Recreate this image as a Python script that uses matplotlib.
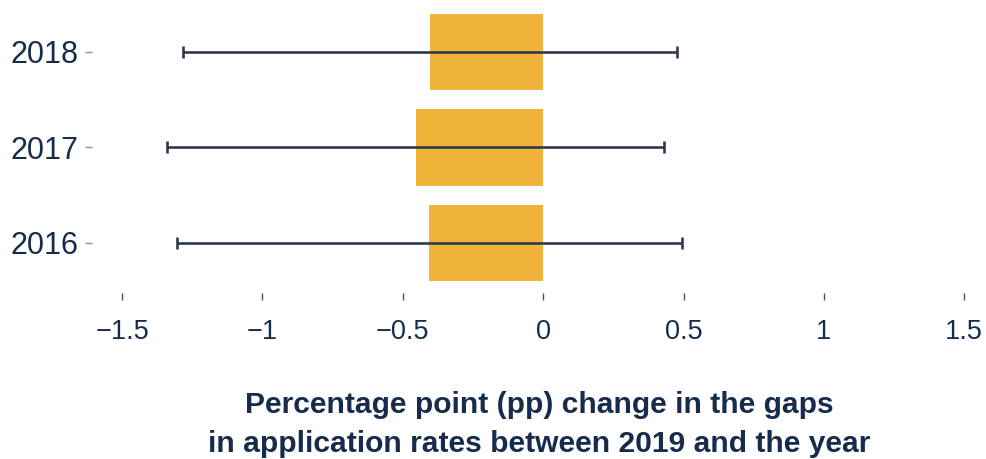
import matplotlib
matplotlib.use("Agg")
import matplotlib.pyplot as plt
import numpy as np

# Change in application-rate gaps relative to 2019, with confidence intervals
years = ["2016", "2017", "2018"]
change_pp = [-0.405, -0.454, -0.403]
ci_low = [-1.306, -1.340, -1.283]
ci_high = [0.495, 0.432, 0.477]
x_ticks = [-1.5, -1, -0.5, 0, 0.5, 1, 1.5]
x_tick_labels = ["\u22121.5", "\u22121", "\u22120.5", "0", "0.5", "1", "1.5"]

navy = "#172C4C"
bar_color = "#F0B43A"
err_color = "#2F3B4C"

plt.rcParams["font.family"] = ["Liberation Sans", "DejaVu Sans"]

fig = plt.figure(figsize=(9.87, 4.59), dpi=100)
W, H = 987, 459
ax_left, ax_right, ax_top, ax_bottom = 92, 987, 4, 293
ax = fig.add_axes([ax_left / W, 1 - ax_bottom / H,
                   (ax_right - ax_left) / W, (ax_bottom - ax_top) / H])

ypos = np.arange(len(years))
vals = np.array(change_pp)
xerr = np.vstack([vals - np.array(ci_low), np.array(ci_high) - vals])

ax.barh(ypos, vals, height=0.8, color=bar_color, zorder=1)
ax.errorbar(vals, ypos, xerr=xerr, fmt="none", ecolor=err_color,
            elinewidth=1.9, capsize=4.3, capthick=1.9, zorder=2)

ax.set_xlim(-1.607, 1.581)
ax.set_ylim(-0.524, 2.5)
ax.set_yticks(ypos)
ax.set_yticklabels(years)
ax.set_xticks(x_ticks)
ax.set_xticklabels(x_tick_labels)

for s in ax.spines.values():
    s.set_visible(False)

ax.tick_params(axis="x", direction="out", length=5, width=1.0, color="#44546A",
               labelsize=19.5, labelcolor=navy, pad=14)
ax.tick_params(axis="y", direction="out", length=5, width=1.0, color="#8A93A0",
               labelsize=22, labelcolor=navy, pad=5)

x_mid = (ax_left + ax_right) / 2 / W
fig.text(x_mid, 1 - 413 / H, "Percentage point (pp) change in the gaps",
         ha="center", va="baseline", fontsize=21.6, fontweight="bold", color=navy)
fig.text(x_mid, 1 - 452 / H, "in application rates between 2019 and the year",
         ha="center", va="baseline", fontsize=21.6, fontweight="bold", color=navy)

fig.savefig("out.png", dpi=100)
